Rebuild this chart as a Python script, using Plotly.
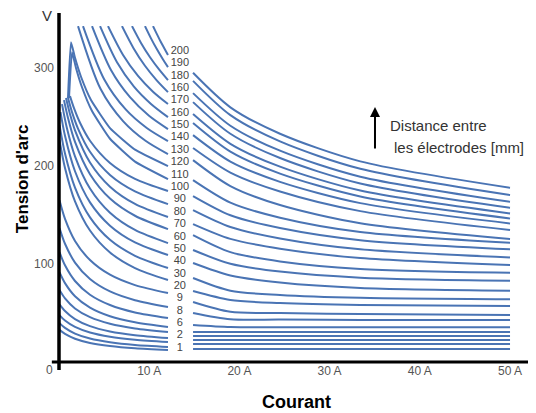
import plotly.graph_objects as go

# ---------------- data (current in A, voltage in V) ----------------
# left part: curves that leave through the top of the chart
top_I = [
    [10.42, 10.84, 11.25, 11.67, 12.08],
    [9.53, 10.17, 10.81, 11.45, 12.08],
    [8.09, 9.09, 10.09, 11.09, 12.08],
    [6.98, 8.26, 9.53, 10.81, 12.08],
    [5.43, 7.10, 8.76, 10.42, 12.08],
    [4.55, 6.43, 8.31, 10.20, 12.08],
    [3.66, 5.76, 7.87, 9.98, 12.08],
    [2.66, 5.02, 7.37, 9.73, 12.08],
    [2.11, 4.60, 7.10, 9.59, 12.08],
]
top_V = [
    [342.9, 335.0, 327.4, 320.3, 313.3],
    [342.9, 330.9, 320.0, 310.1, 301.0],
    [342.9, 325.7, 311.1, 298.7, 287.8],
    [342.9, 320.4, 302.4, 287.8, 275.5],
    [342.9, 313.4, 292.0, 275.9, 263.3],
    [342.9, 306.0, 281.2, 263.5, 250.0],
    [342.9, 298.1, 270.3, 251.4, 237.8],
    [342.9, 288.4, 258.1, 238.9, 225.5],
    [342.9, 278.9, 245.9, 225.8, 212.2],
]

# left part: curves with a sharp peak at low current
peak_I = [
    [0.998, 1.330, 1.774, 2.439, 3.548, 5.654, 8.426, 12.084],
    [1.109, 1.441, 1.885, 2.550, 3.659, 5.654, 8.426, 12.084],
]
peak_V = [
    [269.4, 326.5, 310.5, 291.2, 267.4, 238.8, 216.8, 200.0],
    [269.4, 316.3, 300.2, 280.5, 256.2, 227.9, 204.6, 186.7],
]

# left part: steep curves starting just right of the voltage axis
steep_I = [
    [1.220, 1.663, 2.328, 3.437, 5.654, 8.426, 12.084],
    [0.998, 1.441, 2.106, 3.437, 5.654, 8.426, 12.084],
    [0.776, 1.220, 1.774, 3.437, 5.654, 8.426, 12.084],
    [0.554, 0.998, 1.774, 3.437, 5.654, 8.426, 12.084],
    [0.333, 0.887, 1.774, 3.437, 5.654, 8.426, 12.084],
    [0.166, 0.665, 1.774, 3.437, 5.654, 8.426, 12.084],
    [0.055, 0.665, 1.774, 3.437, 5.654, 8.426, 12.084],
    [0.055, 0.665, 1.774, 3.437, 5.654, 8.426, 12.084],
]
steep_V = [
    [271.4, 259.1, 244.2, 225.9, 203.2, 186.9, 174.5],
    [269.4, 255.1, 238.3, 214.6, 191.0, 174.2, 161.2],
    [269.4, 253.0, 236.5, 203.7, 179.0, 161.4, 148.0],
    [267.3, 249.1, 224.7, 191.7, 166.9, 149.3, 135.7],
    [263.3, 238.4, 210.0, 177.1, 152.4, 134.8, 121.4],
    [255.1, 230.9, 194.7, 163.0, 139.2, 122.1, 109.2],
    [241.8, 212.8, 178.0, 147.6, 124.7, 108.4, 95.9],
    [226.5, 198.1, 164.0, 134.2, 111.8, 95.9, 83.7],
]

# left part: curves starting on the voltage axis
axis_I = [0.055, 0.665, 1.774, 3.437, 5.654, 8.426, 12.084]
axis_V = [
    [165.1, 146.1, 123.6, 104.1, 89.1, 78.5, 70.4],
    [136.8, 120.7, 101.5, 84.7, 72.0, 63.1, 56.1],
    [112.1, 98.7, 82.7, 68.7, 58.2, 50.6, 44.9],
    [91.7, 80.5, 67.1, 55.5, 46.7, 40.5, 35.7],
    [73.5, 64.9, 54.7, 45.8, 39.1, 34.3, 30.6],
    [58.9, 52.0, 43.8, 36.6, 31.2, 27.4, 24.5],
    [47.9, 42.3, 35.8, 30.1, 25.8, 22.8, 20.4],
    [39.7, 34.8, 29.0, 23.9, 20.1, 17.3, 15.3],
    [32.8, 28.7, 23.8, 19.5, 16.3, 14.0, 12.2],
]

# right part: curves after the label column
right_I = [14.86, 19.0, 24.5, 33.4, 50.0]
right_V = [
    [295.2, 260.0, 233.0, 204.8, 177.9],
    [287.0, 252.0, 225.2, 197.2, 170.4],
    [274.5, 241.2, 215.7, 189.1, 163.6],
    [265.3, 233.0, 208.2, 182.2, 157.4],
    [253.1, 222.7, 199.4, 175.0, 151.7],
    [243.9, 214.7, 192.3, 169.0, 146.6],
    [231.6, 204.6, 183.9, 162.2, 141.5],
    [218.4, 193.3, 174.0, 154.0, 134.7],
    [206.1, 179.6, 160.2, 141.6, 125.5],
    [185.7, 162.7, 147.3, 132.7, 121.7],
    [169.4, 149.8, 136.7, 124.3, 115.0],
    [155.1, 137.8, 126.1, 115.0, 106.8],
    [140.8, 125.7, 115.7, 106.1, 99.0],
    [129.6, 112.2, 102.7, 95.0, 91.1],
    [114.3, 100.2, 92.3, 86.1, 83.0],
    [101.0, 88.3, 81.2, 75.6, 72.8],
    [85.7, 72.7, 68.4, 65.5, 64.0],
    [72.4, 63.3, 60.2, 58.2, 57.1],
    [61.2, 51.2, 50.0, 49.0, 48.0],
    [50.0, 43.6, 43.3, 42.9, 42.9],
    [37.8, 35.7, 35.4, 35.4, 35.4],
    [30.6, 30.6, 30.6, 30.6, 30.6],
    [26.5, 26.5, 26.5, 26.5, 26.5],
    [22.4, 22.4, 22.4, 22.4, 22.4],
    [18.4, 18.4, 18.4, 18.4, 18.4],
    [13.3, 13.3, 13.3, 13.3, 13.3],
]

# distance labels (mm), as printed
label_text = ["200", "190", "180", "160", "170", "160", "150", "140", "130", "120",
              "110", "100", "90", "80", "70", "60", "50", "40", "30", "20",
              "9", "8", "6", "2", "1"]
label_V = [317.3, 305.1, 291.8, 279.6, 267.3, 254.1, 241.8, 229.6, 216.3, 204.1,
           190.8, 178.6, 166.3, 153.1, 140.8, 127.6, 115.3, 103.1, 89.8, 77.6,
           65.3, 52.0, 39.8, 27.6, 14.3]
label_I = 13.4

x_tick_vals = [10, 20, 30, 40, 50]
x_tick_text = ["10 A", "20 A", "30 A", "40 A", "50 A"]
y_tick_vals = [100, 200, 300]
y_tick_text = ["100", "200", "300"]

# ---------------- figure ----------------
LINE = dict(color="#4a74b4", width=2, shape="spline", smoothing=0.8)
PEAK_LINE = dict(color="#4a74b4", width=2, shape="spline", smoothing=0.4)
FONT = "Liberation Sans, Arial, sans-serif"

fig = go.Figure()

for xs, ys in zip(top_I, top_V):
    fig.add_trace(go.Scatter(x=xs, y=ys, mode="lines", line=LINE, hoverinfo="skip"))
for xs, ys in zip(peak_I, peak_V):
    fig.add_trace(go.Scatter(x=xs, y=ys, mode="lines", line=PEAK_LINE, hoverinfo="skip"))
for xs, ys in zip(steep_I, steep_V):
    fig.add_trace(go.Scatter(x=xs, y=ys, mode="lines", line=LINE, hoverinfo="skip"))
for ys in axis_V:
    fig.add_trace(go.Scatter(x=axis_I, y=ys, mode="lines", line=LINE, hoverinfo="skip"))
for ys in right_V:
    fig.add_trace(go.Scatter(x=right_I, y=ys, mode="lines", line=LINE, hoverinfo="skip"))

fig.add_trace(go.Scatter(
    x=[label_I] * len(label_text), y=label_V, text=label_text, mode="text",
    textposition="middle center", textfont=dict(family=FONT, size=11, color="#444"),
    hoverinfo="skip"))

# the page body adds an 8 px offset, so the figure is 8 px smaller on each axis
fig.update_layout(
    width=528, height=405, autosize=False,
    margin=dict(l=51, r=0, t=18, b=51),
    paper_bgcolor="white", plot_bgcolor="white",
    showlegend=False,
    font=dict(family=FONT, color="#555"),
    xaxis=dict(range=[0, 52.88], showgrid=False, zeroline=False, showline=False,
               tickvals=x_tick_vals, ticktext=x_tick_text, ticks="", automargin=False,
               tickfont=dict(family=FONT, size=12, color="#555"), fixedrange=True),
    yaxis=dict(range=[0, 343], showgrid=False, zeroline=False, showline=False,
               tickvals=y_tick_vals, ticktext=y_tick_text, ticks="", automargin=False,
               ticklabelstandoff=4,
               tickfont=dict(family=FONT, size=12, color="#555"), fixedrange=True),
    shapes=[
        dict(type="line", xref="paper", yref="paper", x0=0, x1=0, y0=-0.024, y1=1.039,
             line=dict(color="black", width=3.5)),
        dict(type="line", xref="paper", yref="paper", x0=-0.015, x1=1.0, y0=0, y1=0,
             line=dict(color="black", width=3)),
    ],
    annotations=[
        dict(x=-0.0189, y=-0.0238, xref="paper", yref="paper", text="0", showarrow=False,
             xanchor="center", yanchor="middle",
             font=dict(family=FONT, size=12, color="#555")),
        dict(x=-0.0252, y=1.0327, xref="paper", yref="paper", text="V", showarrow=False,
             xanchor="center", yanchor="middle",
             font=dict(family=FONT, size=15, color="#333")),
        dict(x=-0.0776, y=0.547, xref="paper", yref="paper", text="<b>Tension d'arc</b>",
             textangle=-90, showarrow=False, xanchor="center", yanchor="middle",
             font=dict(family=FONT, size=17, color="black")),
        dict(x=0.4969, y=-0.119, xref="paper", yref="paper", text="<b>Courant</b>",
             showarrow=False, xanchor="center", yanchor="middle",
             font=dict(family=FONT, size=18, color="black")),
        dict(x=36.47, y=241.8, xref="x", yref="y", text="Distance entre", xanchor="left",
             yanchor="middle", showarrow=False, font=dict(family=FONT, size=15, color="#333")),
        dict(x=36.92, y=219.4, xref="x", yref="y", text="les électrodes [mm]", xanchor="left",
             yanchor="middle", showarrow=False, font=dict(family=FONT, size=15, color="#333")),
        dict(x=35.03, y=260.2, ax=35.03, ay=216.3, xref="x", yref="y", axref="x", ayref="y",
             text="", showarrow=True, arrowhead=2, arrowsize=1, arrowwidth=2,
             arrowcolor="black"),
    ],
)

fig.write_html("out.html")
